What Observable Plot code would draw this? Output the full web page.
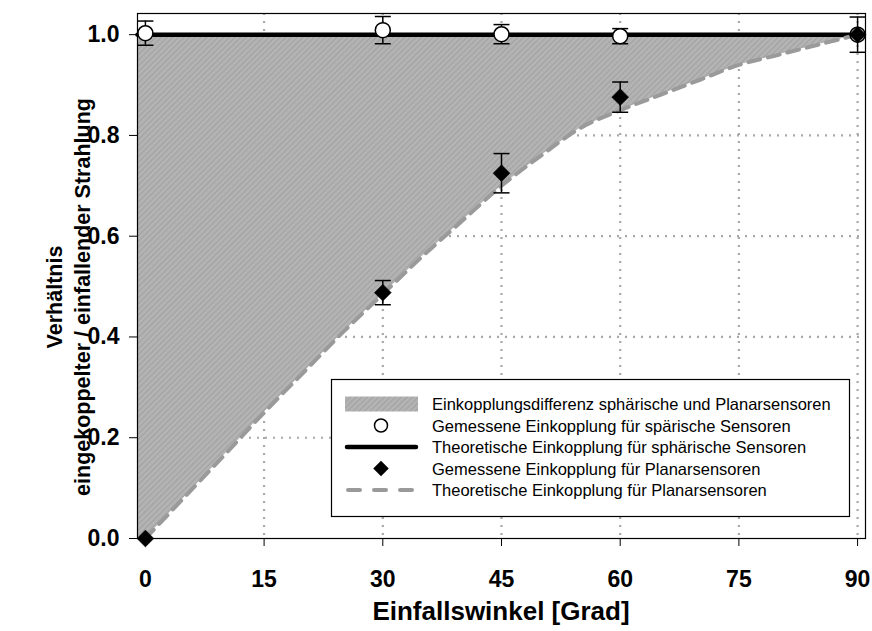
<!DOCTYPE html>
<html>
<head>
<meta charset="utf-8">
<script src="https://cdn.jsdelivr.net/npm/d3@7"></script>
<script src="https://cdn.jsdelivr.net/npm/@observablehq/plot@0.6"></script>
<style>
  html, body { margin: 0; padding: 0; background: white; }
  #chart { width: 872px; height: 631px; }
</style>
</head>
<body>
<div id="chart"></div>
<script>
// ---- data ----
const xTicks = [0, 15, 30, 45, 60, 75, 90];
const yTicks = [0, 0.2, 0.4, 0.6, 0.8, 1.0];

const measAngles = [0, 30, 45, 60, 90];
const sphMeasured = [1.003, 1.009, 1.001, 0.997, 1.0];
const sphError = [0.024, 0.027, 0.019, 0.015, 0.0];
const planMeasured = [0.0, 0.488, 0.725, 0.876, 1.0];
const planError = [0, 0.024, 0.039, 0.03, 0.035];

const theoryAngles = [0, 5, 10, 15, 20, 25, 30, 35, 40, 45, 50, 55, 60, 65, 70, 75, 80, 85, 90];
const planTheory = [0, 0.083, 0.166, 0.25, 0.33, 0.41, 0.485, 0.56, 0.63, 0.70, 0.76, 0.815, 0.85, 0.88, 0.91, 0.94, 0.96, 0.98, 1.0];
const sphTheoryAngles = [-1, 90];
const sphTheory = [1, 1];

const legendLabels = [
  "Einkopplungsdifferenz sphärische und Planarsensoren",
  "Gemessene Einkopplung für spärische Sensoren",
  "Theoretische Einkopplung für sphärische Sensoren",
  "Gemessene Einkopplung für Planarsensoren",
  "Theoretische Einkopplung für Planarsensoren"
];
const xTitle = "Einfallswinkel [Grad]";
const yTitle1 = "Verhältnis";
const yTitle2 = "eingekoppelter / einfallender Strahlung";

// ---- build tables ----
const sph = measAngles.map((a, i) => ({x: a, y: sphMeasured[i], e: sphError[i]}));
const plan = measAngles.map((a, i) => ({x: a, y: planMeasured[i], e: planError[i]}));
const errs = [...sph, ...plan].filter(d => d.e > 0);
const theory = theoryAngles.map((a, i) => ({x: a, y: planTheory[i]}));
const areaData = [{x: sphTheoryAngles[0], y: 0}, ...theory];
const sphLine = sphTheoryAngles.map((a, i) => ({x: a, y: sphTheory[i]}));

const capSymbol = {
  draw(ctx, size) {
    const w = Math.sqrt(size / Math.PI);
    ctx.moveTo(-w, 0);
    ctx.lineTo(w, 0);
  }
};

const plot = Plot.plot({
  width: 872,
  height: 631,
  marginLeft: 137,
  marginRight: 7,
  marginTop: 13,
  marginBottom: 93,
  style: {fontFamily: "'Liberation Sans', Arial, sans-serif", fontSize: "23px", fontWeight: "bold", color: "black", background: "white"},
  x: {domain: [-1, 91], ticks: xTicks},
  y: {domain: [0, 1.042], ticks: yTicks},
  marks: [
    Plot.gridX(xTicks.filter(d => d > 0), {stroke: "#a8a8a8", strokeOpacity: 1, strokeWidth: 2.2, strokeDasharray: "2,6"}),
    Plot.gridY(yTicks.filter(d => d > 0), {stroke: "#a8a8a8", strokeOpacity: 1, strokeWidth: 2.2, strokeDasharray: "2,6"}),
    Plot.areaY(areaData, {x: "x", y1: "y", y2: 1, fill: "url(#hatch)"}),
    Plot.lineY(sphLine, {x: "x", y: "y", stroke: "black", strokeWidth: 4.5}),
    Plot.lineY(theory, {x: "x", y: "y", stroke: "#9a9a9a", strokeWidth: 4, strokeDasharray: "12,8", strokeLinecap: "round", curve: "monotone-x"}),
    Plot.ruleX(errs, {x: "x", y1: d => d.y - d.e, y2: d => d.y + d.e, stroke: "black", strokeWidth: 1.5}),
    Plot.dot(errs, {x: "x", y: d => d.y - d.e, symbol: capSymbol, r: 8, stroke: "black", strokeWidth: 1.5, fill: "none"}),
    Plot.dot(errs, {x: "x", y: d => d.y + d.e, symbol: capSymbol, r: 8, stroke: "black", strokeWidth: 1.5, fill: "none"}),
    Plot.dot(sph, {x: "x", y: "y", symbol: "circle", r: 7.5, fill: "white", stroke: "black", strokeWidth: 1.5}),
    Plot.dot(plan, {x: "x", y: "y", symbol: "diamond2", r: 7.6, fill: "black", stroke: "black", strokeWidth: 0.5}),
    Plot.axisX({ticks: xTicks, tickSize: 8, tickPadding: 24, label: null, stroke: "black"}),
    Plot.axisY({ticks: yTicks, tickSize: 8, tickPadding: 10, label: null, tickFormat: d3.format(".1f"), stroke: "black"}),
    Plot.frame({stroke: "black", strokeWidth: 1.2})
  ]
});

document.getElementById("chart").appendChild(plot);

const svg = d3.select(plot);
// enforce tick label font
svg.selectAll("text").filter(function() {
  const g = this.closest("g[aria-label]");
  return g && /tick label/.test(g.getAttribute("aria-label"));
}).style("font-size", "23px").style("font-weight", "bold").style("font-family", "'Liberation Sans', Arial, sans-serif");

// hatch pattern for the difference area
const defs = svg.insert("defs", ":first-child");
const pat = defs.append("pattern").attr("id", "hatch").attr("width", 4).attr("height", 4)
  .attr("patternUnits", "userSpaceOnUse").attr("patternTransform", "rotate(45)");
pat.append("rect").attr("width", 4).attr("height", 4).attr("fill", "#b3b3b3");
pat.append("line").attr("x1", 0).attr("y1", 0).attr("x2", 0).attr("y2", 4)
  .attr("stroke", "#999").attr("stroke-width", 1.4);

// axis titles
svg.append("text").attr("x", 501).attr("y", 611).attr("text-anchor", "middle")
  .attr("dominant-baseline", "central").style("font", "bold 26px 'Liberation Sans', Arial, sans-serif")
  .text(xTitle);
svg.append("text").attr("transform", "translate(55,297) rotate(-90)").attr("text-anchor", "middle")
  .attr("dominant-baseline", "central").style("font", "bold 21.5px 'Liberation Sans', Arial, sans-serif")
  .text(yTitle1);
svg.append("text").attr("transform", "translate(83,297) rotate(-90)").attr("text-anchor", "middle")
  .attr("dominant-baseline", "central").style("font", "bold 21.5px 'Liberation Sans', Arial, sans-serif")
  .text(yTitle2);

// legend
const lg = svg.append("g");
lg.append("rect").attr("x", 331.5).attr("y", 379.5).attr("width", 518).attr("height", 137)
  .attr("fill", "white").attr("stroke", "black").attr("stroke-width", 1.2);
const rowY = [404, 425.5, 447, 468.5, 490];
lg.append("rect").attr("x", 345).attr("y", rowY[0] - 7.5).attr("width", 73).attr("height", 15).attr("fill", "url(#hatch)");
lg.append("circle").attr("cx", 381).attr("cy", rowY[1]).attr("r", 6.5).attr("fill", "white").attr("stroke", "black").attr("stroke-width", 1.5);
lg.append("line").attr("x1", 347).attr("x2", 416).attr("y1", rowY[2]).attr("y2", rowY[2]).attr("stroke", "black").attr("stroke-width", 4.5).attr("stroke-linecap", "round");
lg.append("path").attr("d", d3.symbol(d3.symbolDiamond2, Math.PI * 7 * 7)()).attr("transform", `translate(381,${rowY[3]})`).attr("fill", "black");
lg.append("line").attr("x1", 348).attr("x2", 418).attr("y1", rowY[4]).attr("y2", rowY[4]).attr("stroke", "#9a9a9a").attr("stroke-width", 4).attr("stroke-dasharray", "12,14").attr("stroke-linecap", "round");
legendLabels.forEach((t, i) => {
  lg.append("text").attr("x", 432).attr("y", rowY[i]).attr("dominant-baseline", "central")
    .attr("text-anchor", "start")
    .style("font", "16.5px 'Liberation Sans', Arial, sans-serif").attr("fill", "black").text(t);
});
</script>
</body>
</html>
